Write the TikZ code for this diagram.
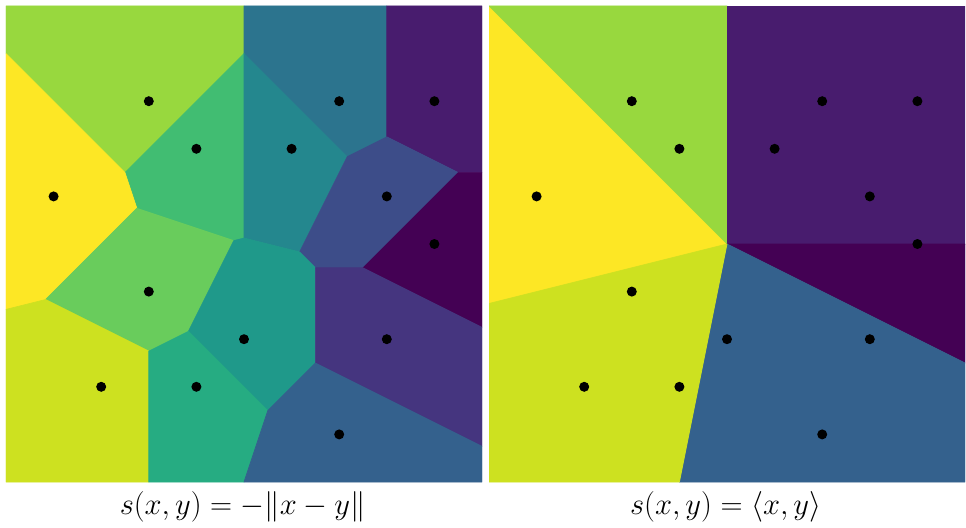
\RequirePackage{fix-cm}
\documentclass[tikz,border=0pt]{standalone}
\usepackage{xcolor}
\usepackage{tikz}
\definecolor{vir00}{HTML}{440154}
\definecolor{vir01}{HTML}{481C6E}
\definecolor{vir02}{HTML}{45357F}
\definecolor{vir03}{HTML}{3D4D89}
\definecolor{vir04}{HTML}{34618D}
\definecolor{vir05}{HTML}{2C748E}
\definecolor{vir06}{HTML}{24878E}
\definecolor{vir07}{HTML}{1F998A}
\definecolor{vir08}{HTML}{26AC82}
\definecolor{vir09}{HTML}{41BD72}
\definecolor{vir10}{HTML}{69CC5C}
\definecolor{vir11}{HTML}{98D83E}
\definecolor{vir12}{HTML}{CDE120}
\definecolor{vir13}{HTML}{FDE725}

\begin{document}
\begin{tikzpicture}[
    cell/.style={fill=#1, draw=#1, line width=0.4pt, line join=round},
    site/.style={circle, fill=black, inner sep=0pt, minimum size=2.1mm},
    caption/.style={font=\fontsize{18.3}{22}\selectfont, anchor=base}
]
\useasboundingbox (-5.126,-5.966) rectangle (15.168,5.126);

% Left panel: s(x,y) = -||x-y||
\begin{scope}
\clip (-5,-5) rectangle (5,5);
\path[cell=vir11] (-5,5) -- (0,5) -- (0,4) -- (-2.5,1.5) -- (-5,4) -- cycle;
\path[cell=vir05] (0,5) -- (3,5) -- (3,2.25) -- (2.1667,1.8333) -- (0,4) -- cycle;
\path[cell=vir01] (3,5) -- (5,5) -- (5,1.5) -- (4.5,1.5) -- (3,2.25) -- cycle;
\path[cell=vir09] (-2.5,1.5) -- (0,4) -- (0,0.125) -- (-0.2143,0.0714) -- (-2.25,0.75) -- cycle;
\path[cell=vir06] (0,4) -- (2.1667,1.8333) -- (1.1667,-0.1667) -- (0,0.125) -- cycle;
\path[cell=vir13] (-5,4) -- (-2.5,1.5) -- (-2.25,0.75) -- (-4.1667,-1.1667) -- (-5,-1.375) -- cycle;
\path[cell=vir03] (2.1667,1.8333) -- (3,2.25) -- (4.5,1.5) -- (2.5,-0.5) -- (1.5,-0.5) -- (1.1667,-0.1667) -- cycle;
\path[cell=vir00] (4.5,1.5) -- (5,1.5) -- (5,-1.75) -- (2.5,-0.5) -- cycle;
\path[cell=vir10] (-4.1667,-1.1667) -- (-2.25,0.75) -- (-0.2143,0.0714) -- (-1.1667,-1.8333) -- (-2,-2.25) -- cycle;
\path[cell=vir07] (-0.2143,0.0714) -- (0,0.125) -- (1.1667,-0.1667) -- (1.5,-0.5) -- (1.5,-2.5) -- (0.5,-3.5) -- (-1.1667,-1.8333) -- cycle;
\path[cell=vir02] (1.5,-0.5) -- (2.5,-0.5) -- (5,-1.75) -- (5,-4.25) -- (1.5,-2.5) -- cycle;
\path[cell=vir12] (-5,-1.375) -- (-4.1667,-1.1667) -- (-2,-2.25) -- (-2,-5) -- (-5,-5) -- cycle;
\path[cell=vir08] (-2,-2.25) -- (-1.1667,-1.8333) -- (0.5,-3.5) -- (0,-5) -- (-2,-5) -- cycle;
\path[cell=vir04] (0.5,-3.5) -- (1.5,-2.5) -- (5,-4.25) -- (5,-5) -- (0,-5) -- cycle;
\end{scope}
\foreach \pos [count=\i] in {(-2,3),(2,3),(4,3),(-1,2),(1,2),(-4,1),(3,1),(4,0),(-2,-1),(0,-2),(3,-2),(-3,-3),(-1,-3),(2,-4)}
    \node[site] (l\i) at \pos {};
\node[caption] (capl) at (-0.03,-5.69) {$s(x,y) = -\|x-y\|$};

% Right panel: s(x,y) = <x,y>
\begin{scope}[xshift=10.147cm]
\clip (-5,-5) rectangle (5,5);
\path[cell=vir13] (0,0) -- (-5,5) -- (-5,-1.25) -- cycle;
\path[cell=vir11] (0,0) -- (0,5) -- (-5,5) -- cycle;
\path[cell=vir01] (0,0) -- (0,5) -- (5,5) -- (5,0) -- cycle;
\path[cell=vir00] (0,0) -- (5,0) -- (5,-2.5) -- cycle;
\path[cell=vir04] (0,0) -- (5,-2.5) -- (5,-5) -- (-1,-5) -- cycle;
\path[cell=vir12] (0,0) -- (-1,-5) -- (-5,-5) -- (-5,-1.25) -- cycle;
\end{scope}
\begin{scope}[xshift=10.147cm]
\foreach \pos [count=\i] in {(-2,3),(2,3),(4,3),(-1,2),(1,2),(-4,1),(3,1),(4,0),(-2,-1),(0,-2),(3,-2),(-3,-3),(-1,-3),(2,-4)}
    \node[site] (r\i) at \pos {};
\node[caption] (capr) at (-0.03,-5.69) {$s(x,y) = \langle x,y\rangle$};
\end{scope}

\end{tikzpicture}
\end{document}
